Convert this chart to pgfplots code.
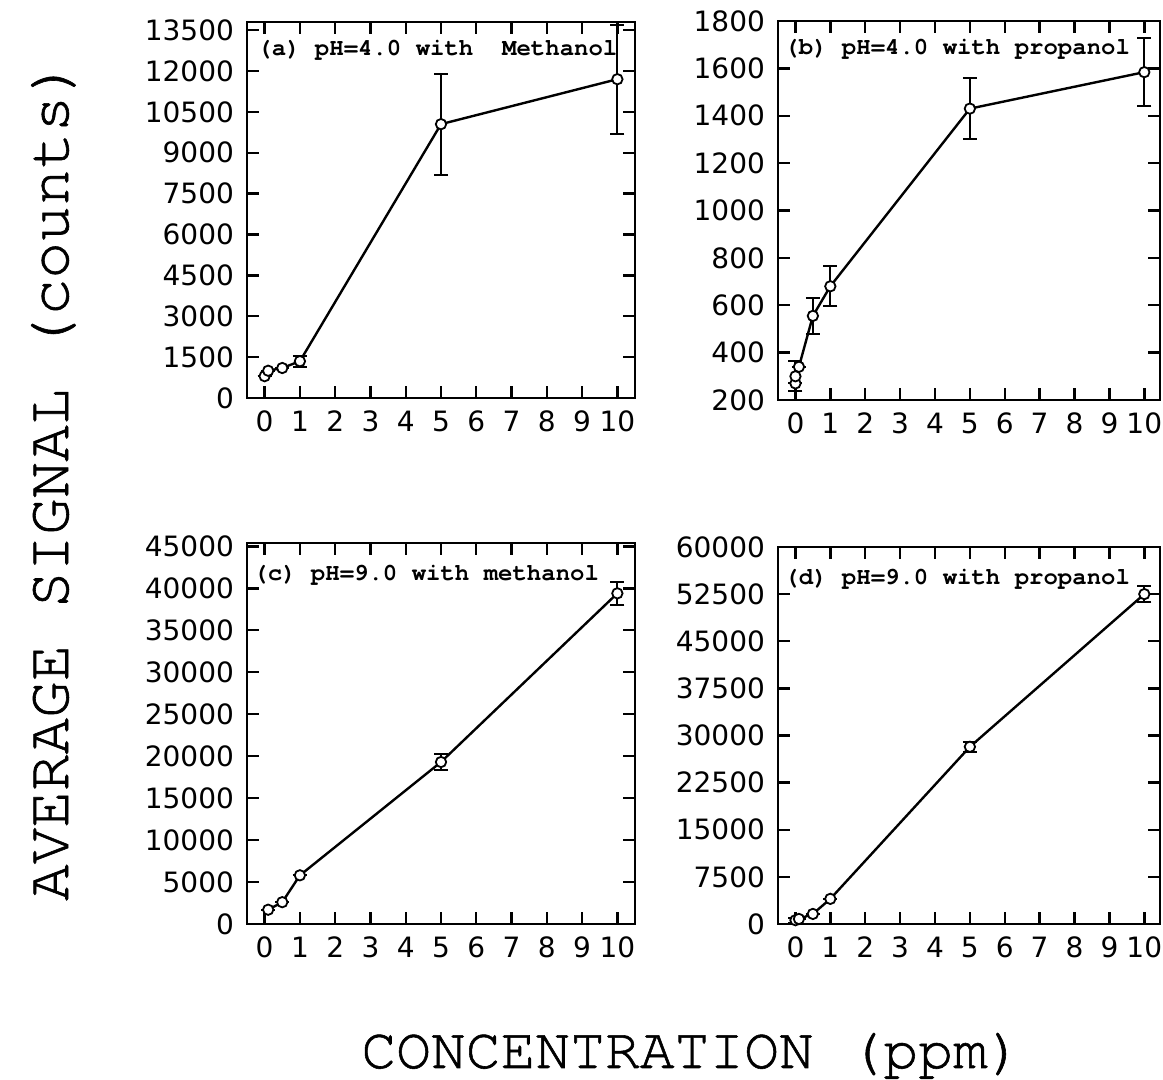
\documentclass[border=0pt]{standalone}
\usepackage{fontspec}
\usepackage{pgfplots}
\pgfplotsset{compat=1.18}
\newfontfamily\tickfont{DejaVu Sans}
\newfontfamily\cour{TeX Gyre Cursor}
\newfontfamily\court{TeX Gyre Cursor}[FakeBold=1]

\pgfplotsset{
  panel/.style={
    scale only axis,
    xmin=-0.5,
    xtick={0,...,10},
    tick align=inside,
    xtick pos=both, ytick pos=both,
    major tick length=6pt,
    axis line style={line width=1.4pt},
    every tick/.style={line width=1.2pt, black},
    ticklabel style={font=\fontsize{14}{16}\tickfont},
    /pgf/number format/assume math mode=true,
    /pgf/number format/1000 sep={},
    scaled y ticks=false,
    yticklabel style={xshift=-3pt},
    xticklabel style={yshift=-3pt},
    clip=false,
  },
  dat/.style={
    black, line width=1.2pt,
    mark=*, mark size=2.6pt,
    mark options={fill=white, line width=0.9pt},
    error bars/.cd, y dir=both, y explicit,
    error bar style={line width=1pt},
    error mark options={rotate=90, mark size=3.5pt, line width=1pt},
  },
}
\tikzset{ptitle/.style={anchor=north west, inner sep=0pt, font=\fontsize{12}{14}\cour\bfseries}}

\begin{document}
\begin{tikzpicture}
\useasboundingbox (0,0) rectangle (581.5pt,540pt);

% (a)
\begin{axis}[panel, at={(123.5pt,341pt)}, anchor=south west,
  width=194pt, height=188pt, xmax=10.5,
  ymin=0, ymax=13800, ytick={0,1500,...,13500}]
\addplot+[dat] coordinates {
  (0,800) +- (0,0)
  (0.1,1000) +- (0,0)
  (0.5,1100) +- (0,0)
  (1,1350) +- (0,200)
  (5,10050) +- (0,1850)
  (10,11700) +- (0,2000)
};
\node[ptitle] at (rel axis cs:0,1) [xshift=5pt, yshift=-9pt] {(a) pH=4.0 with~~Methanol};
\end{axis}

% (b)
\begin{axis}[panel, at={(389pt,340pt)}, anchor=south west,
  width=191pt, height=189.5pt, xmax=10.45,
  ymin=200, ymax=1800, ytick={200,400,...,1800}]
\addplot+[dat] coordinates {
  (0,270) +- (0,0)
  (0,300) +- (0,63)
  (0.1,340) +- (0,0)
  (0.5,555) +- (0,75)
  (1,680) +- (0,85)
  (5,1430) +- (0,128)
  (10,1584) +- (0,144)
};
\node[ptitle] at (rel axis cs:0,1) [xshift=3pt, yshift=-9pt] {(b) pH=4.0 with propanol};
\end{axis}

% (c)
\begin{axis}[panel, at={(123.5pt,78pt)}, anchor=south west,
  width=194pt, height=190.5pt, xmax=10.5,
  ymin=0, ymax=45400, ytick={0,5000,...,45000}]
\addplot+[dat] coordinates {
  (0.1,1700) +- (0,0)
  (0.5,2600) +- (0,0)
  (1,5800) +- (0,0)
  (5,19300) +- (0,950)
  (10,39400) +- (0,1400)
};
\node[ptitle] at (rel axis cs:0,1) [xshift=3pt, yshift=-11pt] {(c) pH=9.0 with methanol};
\end{axis}

% (d)
\begin{axis}[panel, at={(389pt,78pt)}, anchor=south west,
  width=191pt, height=188.5pt, xmax=10.45,
  ymin=0, ymax=60000, ytick={0,7500,...,60000}]
\addplot+[dat] coordinates {
  (0,600) +- (0,400)
  (0.1,800) +- (0,0)
  (0.5,1600) +- (0,0)
  (1,4000) +- (0,0)
  (5,28200) +- (0,800)
  (10,52500) +- (0,1300)
};
\node[ptitle] at (rel axis cs:0,1) [xshift=3pt, yshift=-11pt] {(d) pH=9.0 with propanol};
\end{axis}

\node[rotate=90, anchor=base, font=\fontsize{30.5}{34}\court] at (34pt,300pt) {AVERAGE SIGNAL (counts)};
\node[anchor=base, font=\fontsize{29}{32}\court] at (346pt,6pt) {CONCENTRATION (ppm)};
\end{tikzpicture}
\end{document}
